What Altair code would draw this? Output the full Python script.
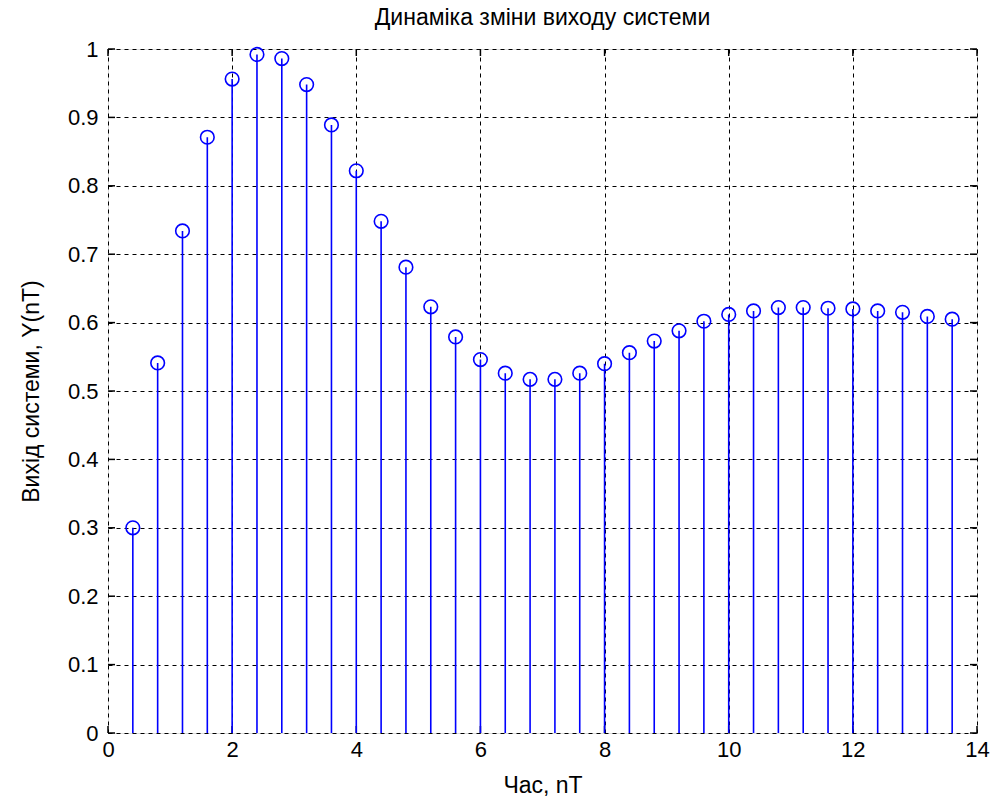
import altair as alt
import pandas as pd

# time instants n*T
time_vals = [0.4, 0.8, 1.2, 1.6, 2.0, 2.4, 2.8, 3.2, 3.6, 4.0, 4.4, 4.8, 5.2, 5.6,
             6.0, 6.4, 6.8, 7.2, 7.6, 8.0, 8.4, 8.8, 9.2, 9.6, 10.0, 10.4, 10.8,
             11.2, 11.6, 12.0, 12.4, 12.8, 13.2, 13.6]
# system output Y(nT)
y_vals = [0.300, 0.541, 0.734, 0.871, 0.956, 0.992, 0.986, 0.948, 0.889, 0.822,
          0.748, 0.681, 0.623, 0.579, 0.546, 0.526, 0.517, 0.517, 0.526, 0.540,
          0.556, 0.573, 0.588, 0.602, 0.612, 0.617, 0.622, 0.622, 0.621, 0.620,
          0.617, 0.615, 0.609, 0.605]

x_ticks = [0, 2, 4, 6, 8, 10, 12, 14]
y_ticks = [0, 0.1, 0.2, 0.3, 0.4, 0.5, 0.6, 0.7, 0.8, 0.9, 1.0]

title_text = "Динаміка зміни виходу системи"
x_title = "Час, nT"
y_title = "Вихід системи, Y(nT)"

df = pd.DataFrame({"t": time_vals, "y": y_vals, "zero": [0.0] * len(time_vals)})
xt = pd.DataFrame({"v": x_ticks})
yt = pd.DataFrame({"v": y_ticks})

W, H = 869, 684
FONT = "Liberation Sans"
BLUE = "#0000FF"

xscale = alt.Scale(domain=[0, 14], nice=False, zero=False)
yscale = alt.Scale(domain=[0, 1], nice=False, zero=False)

xaxis = alt.Axis(values=x_ticks, title=x_title, format="d", grid=True, gridDash=[4, 4],
                 gridColor="black", gridOpacity=1, gridWidth=1,
                 ticks=False, domain=False, labelFont=FONT, labelFontSize=22,
                 labelColor="black", labelPadding=6, titleFont=FONT,
                 titleFontSize=23, titleFontWeight="normal", titleColor="black",
                 titlePadding=14, labelFlush=False)
yaxis = alt.Axis(values=y_ticks, title=y_title, format=".1~f", grid=True,
                 gridDash=[4, 4], gridColor="black", gridOpacity=1, gridWidth=1,
                 ticks=False, domain=False, labelFont=FONT, labelFontSize=22,
                 labelColor="black", labelPadding=10, titleFont=FONT,
                 titleFontSize=23, titleFontWeight="normal", titleColor="black",
                 titlePadding=24, labelFlush=False)

stems = alt.Chart(df).mark_rule(color=BLUE, strokeWidth=1.6).encode(
    x=alt.X("t:Q", scale=xscale, axis=xaxis),
    y=alt.Y("zero:Q", scale=yscale, axis=yaxis),
    y2="y:Q",
)
heads = alt.Chart(df).mark_point(shape="circle", filled=False, color=BLUE,
                                 size=185, strokeWidth=1.6, opacity=1).encode(
    x=alt.X("t:Q", scale=xscale),
    y=alt.Y("y:Q", scale=yscale),
)

TL = 7
tick_bottom = alt.Chart(xt).mark_rule(color="black", strokeWidth=1.5).encode(
    x=alt.X("v:Q", scale=xscale), y=alt.value(H), y2=alt.value(H - TL))
tick_top = alt.Chart(xt).mark_rule(color="black", strokeWidth=1.5).encode(
    x=alt.X("v:Q", scale=xscale), y=alt.value(0), y2=alt.value(TL))
tick_left = alt.Chart(yt).mark_rule(color="black", strokeWidth=1.5).encode(
    y=alt.Y("v:Q", scale=yscale), x=alt.value(0), x2=alt.value(TL))
tick_right = alt.Chart(yt).mark_rule(color="black", strokeWidth=1.5).encode(
    y=alt.Y("v:Q", scale=yscale), x=alt.value(W), x2=alt.value(W - TL))

chart = alt.layer(tick_bottom, tick_top, tick_left, tick_right, stems, heads).properties(
    width=W, height=H,
    title=alt.TitleParams(title_text, font=FONT, fontSize=23, fontWeight="normal",
                          color="black", anchor="middle", offset=8),
    padding={"left": 108, "top": 49, "right": 25, "bottom": 72},
    autosize=alt.AutoSizeParams(type="none"),
).configure_view(stroke="black", strokeWidth=2).configure(background="white")

chart.save("out.html", embed_options={"renderer": "svg", "actions": False})
